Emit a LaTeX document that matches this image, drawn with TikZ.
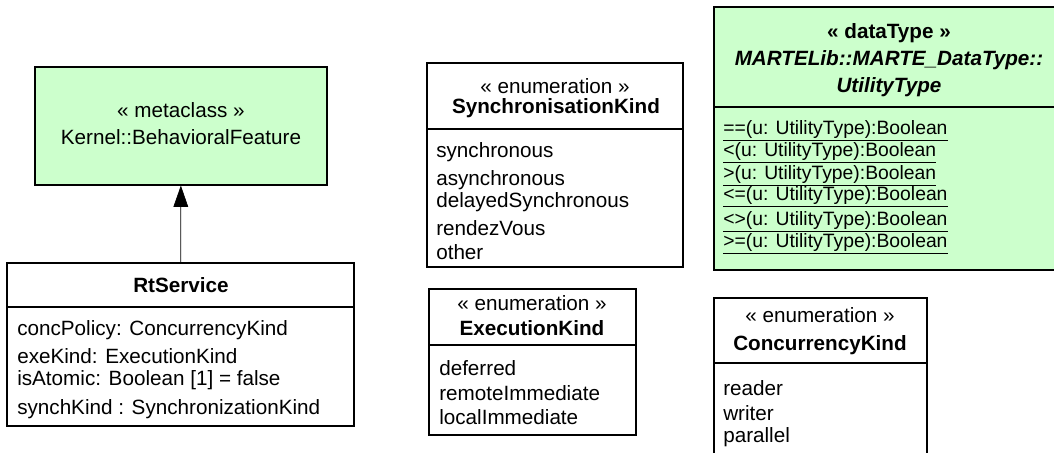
\documentclass[tikz,border=0pt]{standalone}
\usepackage{fontspec}
\setmainfont{Liberation Sans}
\usetikzlibrary{fit,arrows.meta}
\definecolor{metagreen}{HTML}{CCFFCC}
\begin{document}
\begin{tikzpicture}[
 x=.75pt,y=-.75pt,
 rule/.style={line width=.8pt},
 box/.style={rule,draw,inner sep=0pt},
 metabox/.style={box,fill=metagreen},
 head/.style={anchor=mid,inner sep=0pt,yshift=-3pt,font=\fontsize{15.5}{18}\selectfont},
 title/.style={anchor=mid,inner sep=0pt,yshift=-3pt,font=\fontsize{15.5}{18}\selectfont\bfseries},
 item/.style={anchor=mid west,inner sep=0pt,yshift=-3pt,font=\fontsize{15.5}{18}\selectfont},
 oper/.style={anchor=mid west,inner sep=0pt,yshift=-2.5pt,font=\fontsize{14.5}{16}\selectfont},
 gen/.style={-{Triangle[length=16pt,width=11pt]},line width=.5pt}]
 \useasboundingbox (0,0) rectangle (1054,453);
 \clip (0,0) rectangle (1054,453);
 % Metaclass.
 \node[metabox,fit={(35,67) (327,185)}] (meta) {};
 \node[head] (meta-st) at (181,110) {« metaclass »};
 \node[head] (meta-nm) at (181,137) {Kernel::BehavioralFeature};
 % RtService.
 \node[box,fill=white,fit={(7,263) (354,426)}] (rts) {};
 \draw[rule] (rts.west |- 0,307) -- (rts.east |- 0,307);
 \node[title] (rts-nm) at (181,285) {RtService};
 \foreach \y/\t [count=\i] in {328/{concPolicy: ConcurrencyKind},356/{exeKind: ExecutionKind},
   378/{isAtomic: Boolean [1] = false},407/{synchKind : SynchronizationKind}}
  \node[item] (rts-\i) at (17,\y) {\t};
 \draw[gen] (rts) -- (meta);
 % SynchronisationKind.
 \node[box,fit={(427,63) (683,267)}] (sync) {};
 \draw[rule] (sync.west |- 0,129) -- (sync.east |- 0,129);
 \node[head] (sync-st) at (555,86) {« enumeration »};
 \node[title] (sync-nm) at (556,106) {SynchronisationKind};
 \foreach \y/\t [count=\i] in {150/synchronous,178/asynchronous,200/delayedSynchronous,
   228/rendezVous,252/other}
  \node[item] (sync-\i) at (436,\y) {\t};
 % ExecutionKind.
 \node[box,fit={(429,289) (636,435)}] (exec) {};
 \draw[rule] (exec.west |- 0,345) -- (exec.east |- 0,345);
 \node[head] (exec-st) at (532,303) {« enumeration »};
 \node[title] (exec-nm) at (532,328) {ExecutionKind};
 \foreach \y/\t [count=\i] in {368/deferred,393/remoteImmediate,417/localImmediate}
  \node[item] (exec-\i) at (439,\y) {\t};
 % UtilityType data type, cut by the right edge.
 \node[metabox,fit={(714,7) (1066,270)}] (util) {};
 \draw[rule] (util.west |- 0,107) -- (util.east |- 0,107);
 \node[title] (util-st) at (889,31) {« dataType »};
 \node[title,font=\fontsize{15.5}{18}\selectfont\bfseries\itshape] (util-nm) at (889,58) {MARTELib::MARTE\_DataType::};
 \node[title,font=\fontsize{15.5}{18}\selectfont\bfseries\itshape] (util-nm2) at (889,85) {UtilityType};
 \foreach \y/\t [count=\i] in {128/==,150/<,173/>,194/<=,219/<>,241/>=}
  \node[oper] (util-\i) at (723,\y) {\underline{\t(u: UtilityType):Boolean}};
 % ConcurrencyKind, cut by the bottom edge.
 \node[box,fit={(714,298) (927,460)}] (conc) {};
 \draw[rule] (conc.west |- 0,363) -- (conc.east |- 0,363);
 \node[head] (conc-st) at (820,315) {« enumeration »};
 \node[title] (conc-nm) at (820,343) {ConcurrencyKind};
 \foreach \y/\t [count=\i] in {388/reader,413/writer,435/parallel}
  \node[item] (conc-\i) at (723,\y) {\t};
\end{tikzpicture}
\end{document}
